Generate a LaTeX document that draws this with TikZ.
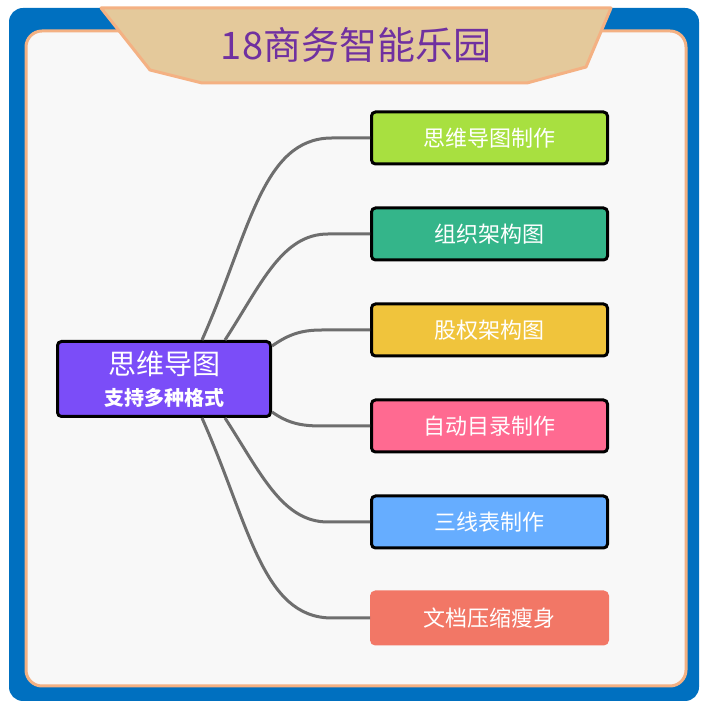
\documentclass[tikz,border=0pt]{standalone}
\usepackage{fontspec}
\newfontfamily\cjk{Noto Sans CJK SC}
\usepackage{tikz}
\usetikzlibrary{positioning}
\definecolor{frameblue}{RGB}{0,112,192}
\definecolor{frameorange}{RGB}{244,177,131}
\definecolor{bannertan}{RGB}{228,201,155}
\definecolor{titlepurple}{RGB}{112,48,160}
\definecolor{rootpurple}{RGB}{123,77,248}
\definecolor{linkgray}{RGB}{110,110,110}
\definecolor{mmlime}{RGB}{168,224,64}
\definecolor{mmteal}{RGB}{52,181,138}
\definecolor{mmyellow}{RGB}{240,196,60}
\definecolor{mmpink}{RGB}{255,106,145}
\definecolor{mmblue}{RGB}{102,173,255}
\definecolor{mmsalmon}{RGB}{242,119,102}

\begin{document}
\begin{tikzpicture}[
  x=1pt, y=1pt,
  font=\cjk,
  node distance=41pt,
  root/.style={
    draw=black, line width=3pt, rounded corners=4pt,
    fill=rootpurple, text=white, align=center,
    minimum width=213pt, minimum height=75pt,
    font=\cjk\fontsize{28}{31}\selectfont
  },
  topic/.style={
    draw=black, line width=3pt, rounded corners=4pt, text=white,
    minimum width=236pt, minimum height=52pt,
    font=\cjk\fontsize{22}{25}\selectfont
  },
  link/.style={draw=linkgray, line width=3pt}
]
\useasboundingbox (0,0) rectangle (709,709);
\fill[frameblue, rounded corners=14pt] (9,8) rectangle (699,701);
\filldraw[fill={rgb,255:red,248;green,248;blue,248}, draw=frameorange, line width=3pt, rounded corners=16pt]
  (26,23) rectangle (686,678);
\filldraw[fill=bannertan, draw=frameorange, line width=3pt, line join=round]
  (101,701) -- (611,701) -- (586,642) -- (527,626) -- (202,626) -- (150,639) -- cycle;
\node[text=titlepurple, font=\cjk\fontsize{38}{42}\selectfont] (title) at (356,664) {18商务智能乐园};

\node[root] (center) at (164,330)
  {思维导图\\{\fontsize{20}{24}\selectfont\bfseries 支持多种格式}};

\node[topic, fill=mmlime] (t1) at (489.5,571) {思维导图制作};
\node[topic, fill=mmteal, below=of t1] (t2) {组织架构图};
\node[topic, fill=mmyellow, below=of t2] (t3) {股权架构图};
\node[topic, fill=mmpink, below=of t3] (t4) {自动目录制作};
\node[topic, fill=mmblue, below=of t4] (t5) {三线表制作};
\node[topic, fill=mmsalmon, draw=mmsalmon, below=of t5] (t6) {文档压缩瘦身};

\draw[link] ([xshift=38pt]center.north) to[out=66, in=180, out looseness=1.25, in looseness=0.75] ([xshift=-38pt]t1.west) -- (t1.west);
\draw[link] ([xshift=61pt]center.north) to[out=57, in=180, out looseness=1.15, in looseness=0.8] ([xshift=-42pt]t2.west) -- (t2.west);
\draw[link] ([yshift=-6pt]center.north east) to[out=35, in=180] ([xshift=-48pt]t3.west) -- (t3.west);
\draw[link] ([yshift=6pt]center.south east) to[out=-35, in=180] ([xshift=-48pt]t4.west) -- (t4.west);
\draw[link] ([xshift=61pt]center.south) to[out=-57, in=180, out looseness=1.15, in looseness=0.8] ([xshift=-42pt]t5.west) -- (t5.west);
\draw[link] ([xshift=38pt]center.south) to[out=-66, in=180, out looseness=1.25, in looseness=0.75] ([xshift=-38pt]t6.west) -- (t6.west);
\end{tikzpicture}
\end{document}
